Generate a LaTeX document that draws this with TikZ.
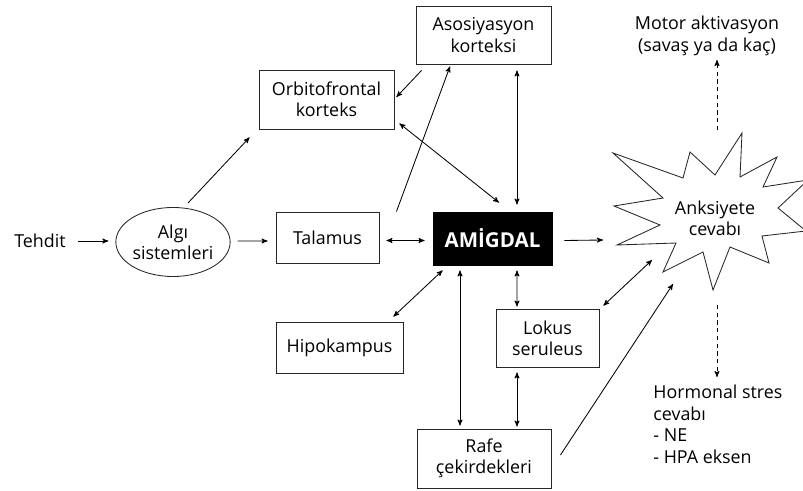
\documentclass[tikz,border=0pt]{standalone}
\usepackage{fontspec}
\setsansfont{Open Sans}
\usepackage{tikz}
\usetikzlibrary{arrows}
\usetikzlibrary{shapes.geometric}

\begin{document}
\begin{tikzpicture}[x=0.025cm,y=-0.025cm,->,>=stealth',line width=0.6pt,
  every node/.style={font=\sffamily\fontsize{12.7}{15.2}\selectfont},
  main node/.style={rectangle,draw=black!85,line width=0.6pt,align=center,inner sep=0pt},
  black node/.style={rectangle,draw=black,fill=black,text=white,inner sep=0pt,
    font=\sffamily\bfseries\fontsize{14.6}{16}\selectfont},
  oval node/.style={ellipse,draw=black!85,line width=0.6pt,align=center,inner sep=0pt},
  plain node/.style={align=center,inner sep=0pt},
  dash link/.style={dash pattern=on 3pt off 2.5pt}]

  \useasboundingbox (0,0) rectangle (803,491);

  % anksiyete yildizi
  \draw[-,fill=white,line width=0.6pt,draw=black!85]
    (613,153) -- (683,178) -- (690,152) -- (715,175) -- (742,133) -- (740,177)
    -- (777,157) -- (763,187) -- (808,180) -- (778,208) -- (806,231) -- (762,236)
    -- (769,263) -- (730,247) -- (713,290) -- (703,252) -- (663,272) -- (676,243)
    -- (617,245) -- (660,225) -- (614,206) -- (663,198) -- cycle;

  \node[plain node] (tehdit) at (40,241) {Tehdit};
  \node[oval node, minimum width=2.8cm, minimum height=1.725cm] (algi) at (173,242) {Algı\\sistemleri};
  \node[main node, minimum width=2.575cm, minimum height=1.275cm] (talamus) at (327.5,237.5) {Talamus};
  \node[black node, minimum width=2.975cm, minimum height=1.325cm] (amigdal) at (492.5,238.5) {AMİGDAL};
  \node[main node, minimum width=3.375cm, minimum height=1.45cm] (asosi) at (483.5,35) {Asosiyasyon\\korteksi};
  \node[main node, minimum width=3.375cm, minimum height=1.475cm] (orbito) at (326.5,99.5) {Orbitofrontal\\korteks};
  \node[main node, minimum width=3.175cm, minimum height=1.275cm] (hipo) at (339.5,347.5) {Hipokampus};
  \node[main node, minimum width=2.575cm, minimum height=1.45cm] (lokus) at (547.5,338) {Lokus\\seruleus};
  \node[main node, minimum width=3.35cm, minimum height=1.475cm] (rafe) at (484,458.5) {Rafe\\çekirdekleri};
  \node[plain node] (anks) at (715,218) {Anksiyete\\cevabı};
  \node[plain node] (motor) at (707,36) {Motor aktivasyon\\(savaş ya da kaç)};
  \node[plain node, anchor=north west, align=left] (horm) at (653,385)
    {Hormonal stres\\cevabı\\- NE\\- HPA eksen};

  \path[->]
    ([shift={(12,0)}]tehdit.east) edge ([shift={(-7,-1)}]algi.west)
    ([shift={(7,-1)}]algi.east) edge ([shift={(-8,3.5)}]talamus.west)
    ([shift={(12,2)}]amigdal.east) edge ([shift={(-112,22)}]anks.center)
    ([shift={(15,-39)}]algi.center) edge ([shift={(-9,8)}]orbito.south west)
    ([shift={(17,0)}]talamus.north east) edge ([shift={(-33.5,2)}]asosi.south)
    ([shift={(6,6)}]asosi.south west) edge ([shift={(2,-2.5)}]orbito.east)
    ([shift={(9,-3.5)}]rafe.east) edge ([shift={(-42,66)}]anks.center)
  ;
  \path[<->]
    ([shift={(7,3)}]talamus.east) edge ([shift={(-8,2)}]amigdal.west)
    ([shift={(5,-6)}]orbito.south east) edge ([shift={(6.5,-9)}]amigdal.north)
    ([shift={(33.5,6)}]asosi.south) edge ([shift={(24.5,-7)}]amigdal.north)
    ([shift={(-10,-5)}]hipo.north east) edge ([shift={(10,5)}]amigdal.south west)
    ([shift={(-32.5,5)}]amigdal.south) edge ([shift={(-24,-3)}]rafe.north)
    ([shift={(24.5,5)}]amigdal.south) edge ([shift={(-30.5,-2)}]lokus.north)
    ([shift={(-30.5,5)}]lokus.south) edge ([shift={(33,-2)}]rafe.north)
    ([shift={(4,-3)}]lokus.north east) edge ([shift={(-63,42)}]anks.center)
  ;
  \path[->,dash link]
    ([shift={(2,-88)}]anks.center) edge ([shift={(10,24)}]motor.center)
    ([shift={(2,87)}]anks.center) edge ([shift={(64,-8)}]horm.north west)
  ;
\end{tikzpicture}
\end{document}
